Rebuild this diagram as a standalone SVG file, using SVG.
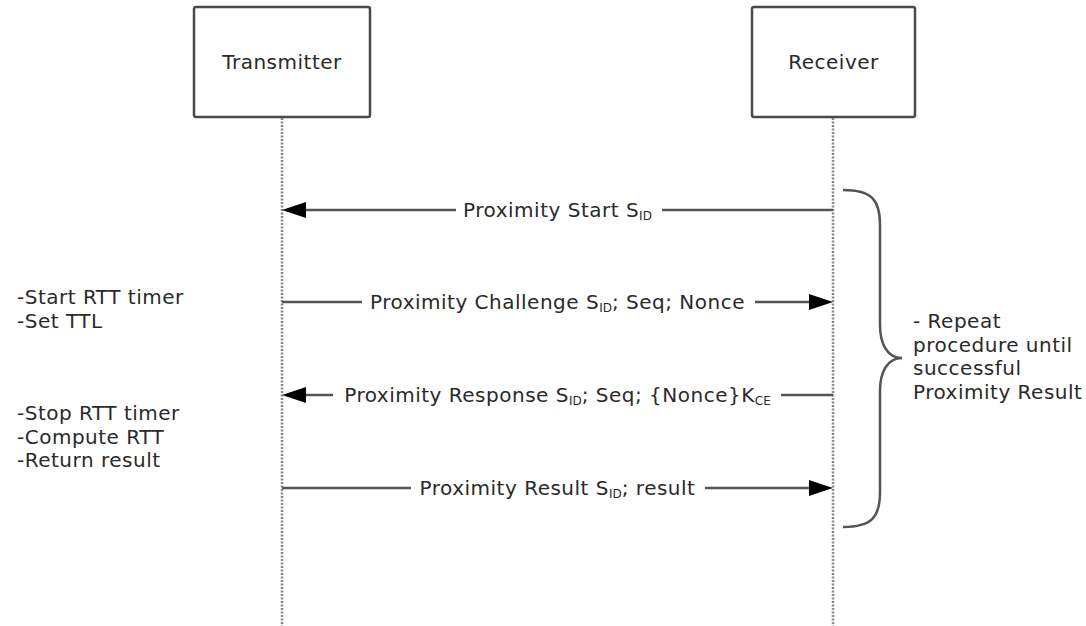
<svg xmlns="http://www.w3.org/2000/svg" width="1086" height="626" viewBox="0 0 1086 626">
<defs>
<style>
text{font-family:"DejaVu Sans","Liberation Sans",sans-serif;font-size:20px;letter-spacing:0.5px;fill:#2a2a2a}
.sub{font-size:12px;letter-spacing:0}
.box{fill:#fff;stroke:#4a4a4a;stroke-width:2.5}
.life{stroke:#888;stroke-width:2.5;stroke-dasharray:2 1.5;fill:none}
.msg{stroke:#555;stroke-width:2.5;fill:none}
.head{fill:#000}
.brace{stroke:#555;stroke-width:2.5;fill:none}
</style>
</defs>
<rect width="1086" height="626" fill="#fff"/>
<g id="lifelines">
<line class="life" x1="282" y1="118" x2="282" y2="626"/>
<line class="life" x1="833" y1="118" x2="833" y2="626"/>
</g>
<g id="transmitter">
<rect class="box" x="194" y="7" width="176" height="110" rx="2"/>
<text x="282" y="69" text-anchor="middle">Transmitter</text>
</g>
<g id="receiver">
<rect class="box" x="752" y="7" width="163" height="110" rx="2"/>
<text x="833.5" y="69" text-anchor="middle">Receiver</text>
</g>
<g id="connectors">
<path class="msg" d="M833 210H662M456 210H304"/>
<polygon class="head" points="282,210 306,202 306,218"/>
<text x="557.5" y="217" text-anchor="middle">Proximity Start S<tspan class="sub" dy="3">ID</tspan></text>

<path class="msg" d="M282 302H362M755 302H812"/>
<polygon class="head" points="833,302 809,294 809,310"/>
<text x="557.5" y="309" text-anchor="middle">Proximity Challenge S<tspan class="sub" dy="3">ID</tspan><tspan dy="-3">; Seq; Nonce</tspan></text>

<path class="msg" d="M833 395H781M333 395H304"/>
<polygon class="head" points="282,395 306,387 306,403"/>
<text x="557.5" y="402" text-anchor="middle">Proximity Response S<tspan class="sub" dy="3">ID</tspan><tspan dy="-3">; Seq; {Nonce}K</tspan><tspan class="sub" dy="3">CE</tspan></text>

<path class="msg" d="M282 488H411M705 488H812"/>
<polygon class="head" points="833,488 809,480 809,496"/>
<text x="557.5" y="495" text-anchor="middle">Proximity Result S<tspan class="sub" dy="3">ID</tspan><tspan dy="-3">; result</tspan></text>
</g>
<g id="brace">
<path class="brace" d="M843 190C872 190 880 200 880 225V325C880 345 888 358 902 358C888 358 880 371 880 391V492C880 517 872 527 843 527"/>
</g>
<g id="notes">
<text x="17" y="304">-Start RTT timer</text>
<text x="17" y="328">-Set TTL</text>
<text x="17" y="420">-Stop RTT timer</text>
<text x="17" y="444">-Compute RTT</text>
<text x="17" y="467">-Return result</text>
<text x="913" y="328">- Repeat</text>
<text x="913" y="352">procedure until</text>
<text x="913" y="375">successful</text>
<text x="913" y="399">Proximity Result</text>
</g>
</svg>
